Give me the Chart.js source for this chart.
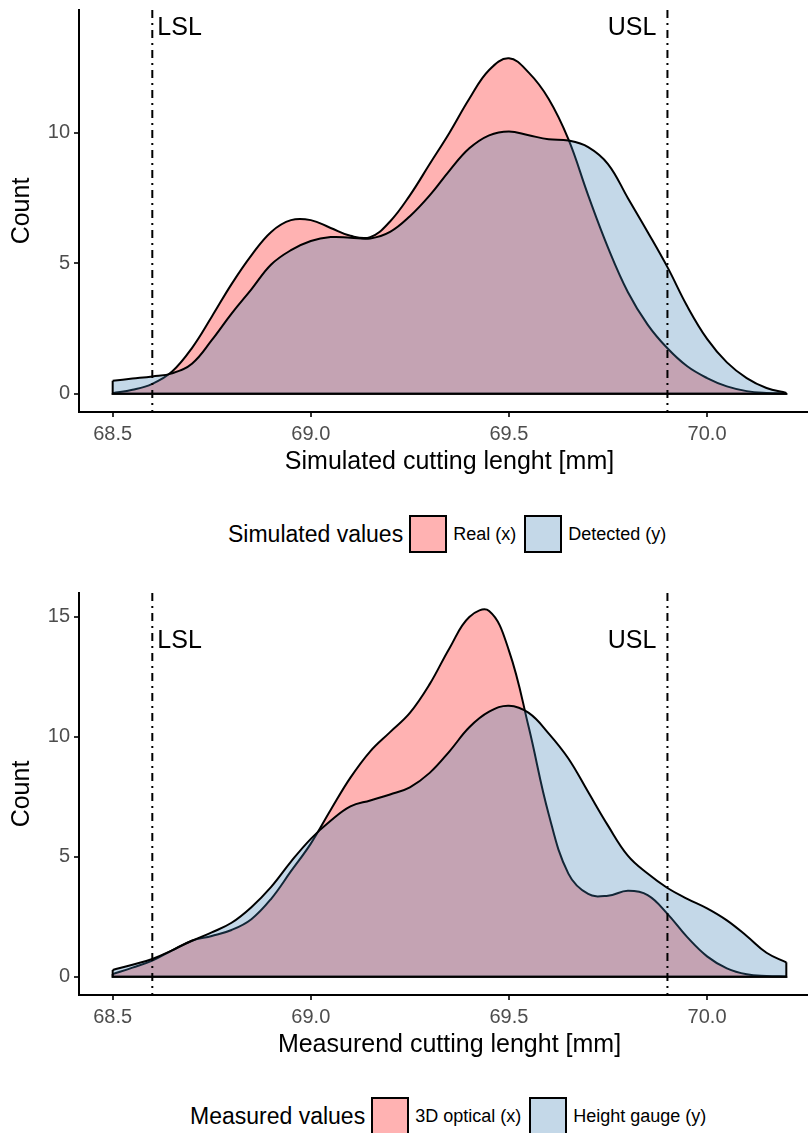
<!DOCTYPE html>
<html>
<head>
<meta charset="utf-8">
<script src="https://cdn.jsdelivr.net/npm/chart.js@4/dist/chart.umd.min.js"></script>
<style>
  body {
    margin: 0;
    width: 808px;
    height: 1133px;
    overflow: hidden;
    background: #fff;
    position: relative;
    font-family: "Liberation Sans", Arial, sans-serif;
  }
  canvas { position: absolute; left: 0; }
  .legend {
    position: absolute;
    display: flex;
    align-items: center;
    white-space: nowrap;
    color: #000;
  }
  .legend .title { font-size: 23px; margin-right: 6px; }
  .legend .key { width: 34px; height: 34px; border: 2px solid #000; }
  .legend .label { font-size: 18px; margin: 0 8px 0 6px; }
</style>
</head>
<body>
<canvas id="simChart" width="820" height="490" style="top:0px"></canvas>
<canvas id="measChart" width="820" height="490" style="top:583px"></canvas>
<div class="legend" id="simLegend" style="left:228px; top:515px"></div>
<div class="legend" id="measLegend" style="left:190px; top:1097px"></div>

<script>
// sample positions along the cutting length (mm)
const lengths = [68.5, 68.55, 68.6, 68.65, 68.7, 68.75, 68.8, 68.85, 68.9, 68.95,
  69.0, 69.05, 69.1, 69.15, 69.2, 69.25, 69.3, 69.35, 69.4, 69.45,
  69.5, 69.55, 69.6, 69.65, 69.7, 69.75, 69.8, 69.85, 69.9, 69.95,
  70.0, 70.05, 70.1, 70.15, 70.2];

// simulated values
const realX = [0.02, 0.15, 0.38, 0.85, 1.75, 2.95, 4.2, 5.3, 6.2, 6.65,
  6.65, 6.35, 6.05, 6.0, 6.6, 7.6, 8.8, 10.0, 11.3, 12.4,
  12.85, 12.3, 11.3, 9.75, 7.6, 5.6, 3.9, 2.65, 1.74, 1.05,
  0.6, 0.28, 0.1, 0.03, 0.01];
const detectedY = [0.5, 0.58, 0.66, 0.78, 1.15, 2.05, 3.07, 4.0, 4.95, 5.5,
  5.85, 6.0, 5.98, 5.95, 6.2, 6.8, 7.6, 8.55, 9.4, 9.9,
  10.05, 9.9, 9.75, 9.7, 9.45, 8.8, 7.5, 6.2, 4.85, 3.35,
  2.1, 1.2, 0.6, 0.22, 0.03];

// measured values
const opticalX = [0.11, 0.38, 0.67, 1.1, 1.5, 1.7, 1.95, 2.4, 3.25, 4.4,
  5.55, 6.95, 8.3, 9.4, 10.2, 11.0, 12.2, 13.7, 15.0, 15.25,
  13.6, 10.4, 6.8, 4.3, 3.45, 3.38, 3.58, 3.4, 2.62, 1.65,
  0.85, 0.35, 0.1, 0.03, 0.01];
const gaugeY = [0.28, 0.5, 0.74, 1.1, 1.5, 1.85, 2.25, 2.9, 3.75, 4.8,
  5.75, 6.5, 7.1, 7.35, 7.6, 7.9, 8.5, 9.4, 10.4, 11.05,
  11.3, 11.0, 10.15, 9.1, 7.7, 6.3, 5.05, 4.3, 3.7, 3.25,
  2.85, 2.35, 1.7, 1.0, 0.6];

// spec limits
const lsl = 68.6;
const usl = 69.9;
const limitLabelY = 14;

const xTicks = [68.5, 69.0, 69.5, 70.0];
const simYTicks = [0, 5, 10];
const measYTicks = [0, 5, 10, 15];

const redFill = "rgba(255, 0, 0, 0.3)";
const blueFill = "rgba(60, 125, 178, 0.3)";

// draws LSL / USL dot-dash lines with their labels
const specLines = {
  id: "specLines",
  afterDatasetsDraw(chart) {
    const { ctx, chartArea, scales } = chart;
    const xl = scales.x.getPixelForValue(lsl);
    const xu = scales.x.getPixelForValue(usl);
    ctx.save();
    ctx.strokeStyle = "#000";
    ctx.lineWidth = 2;
    ctx.setLineDash([8, 5, 2, 5]);
    [xl, xu].forEach((px) => {
      ctx.beginPath();
      ctx.moveTo(px, chartArea.top);
      ctx.lineTo(px, chartArea.bottom);
      ctx.stroke();
    });
    ctx.setLineDash([]);
    ctx.fillStyle = "#000";
    ctx.font = '25px "Liberation Sans", Arial, sans-serif';
    ctx.textBaseline = "middle";
    const ty = scales.y.getPixelForValue(limitLabelY);
    ctx.textAlign = "left";
    ctx.fillText("LSL", xl + 5, ty);
    ctx.textAlign = "right";
    ctx.fillText("USL", xu - 11, ty);
    ctx.restore();
  },
};

const toPoints = (vals) => vals.map((v, i) => ({ x: lengths[i], y: v }));

// density area plus its closing edges (left side, baseline, right side)
const densitySets = (vals, fill, order) => {
  const last = lengths.length - 1;
  return [
    {
      data: toPoints(vals),
      backgroundColor: fill,
      borderColor: "#000",
      borderWidth: 2,
      fill: "origin",
      pointRadius: 0,
      tension: 0.4,
      order: order,
    },
    {
      data: [
        { x: lengths[0], y: vals[0] },
        { x: lengths[0], y: 0 },
        { x: lengths[last], y: 0 },
        { x: lengths[last], y: vals[last] },
      ],
      borderColor: "#000",
      borderWidth: 2,
      fill: false,
      pointRadius: 0,
      tension: 0,
      order: order - 0.5,
    },
  ];
};

// drop the extra room Chart.js keeps for edge tick labels
const noScalePadding = (scale) => {
  scale.paddingTop = 0;
  scale.paddingBottom = 0;
  scale.paddingLeft = 0;
  scale.paddingRight = 0;
};

const makeChart = (id, first, second, yMin, yMax, yTicks, xTitle) => {
  const ctx = document.getElementById(id).getContext("2d");
  return new Chart(ctx, {
    type: "line",
    data: {
      datasets: [
        ...densitySets(first, redFill, 4),
        ...densitySets(second, blueFill, 2),
      ],
    },
    options: {
      responsive: false,
      animation: false,
      events: [],
      layout: { padding: { top: 10, left: 0, right: 0, bottom: 0 } },
      plugins: {
        legend: { display: false },
        tooltip: { enabled: false },
      },
      scales: {
        x: {
          type: "linear",
          min: 68.415,
          max: 70.285,
          afterBuildTicks: (scale) => {
            scale.ticks = xTicks.map((v) => ({ value: v }));
          },
          afterFit: (scale) => {
            scale.height = 78;
            noScalePadding(scale);
          },
          ticks: {
            color: "#4d4d4d",
            font: { size: 20, family: "Liberation Sans" },
            padding: 5,
            maxRotation: 0,
            callback: (v) => v.toFixed(1),
          },
          grid: {
            drawOnChartArea: false,
            drawTicks: true,
            tickLength: 5,
            color: "#333",
            lineWidth: 2,
          },
          border: { display: true, color: "#000", width: 2 },
          title: {
            display: true,
            text: xTitle,
            color: "#000",
            font: { size: 25, family: "Liberation Sans" },
            padding: { top: 0, bottom: 13 },
          },
        },
        y: {
          type: "linear",
          min: yMin,
          max: yMax,
          afterBuildTicks: (scale) => {
            scale.ticks = yTicks.map((v) => ({ value: v }));
          },
          afterFit: (scale) => {
            scale.width = 79;
            noScalePadding(scale);
          },
          ticks: {
            color: "#4d4d4d",
            font: { size: 20, family: "Liberation Sans" },
            padding: 4,
          },
          grid: {
            drawOnChartArea: false,
            drawTicks: true,
            tickLength: 5,
            color: "#333",
            lineWidth: 2,
          },
          border: { display: true, color: "#000", width: 2 },
          title: {
            display: true,
            text: "Count",
            color: "#000",
            font: { size: 25, family: "Liberation Sans" },
            padding: { top: 7, bottom: 0 },
          },
        },
      },
    },
    plugins: [specLines],
  });
};

// legend below each panel
const makeLegend = (id, title, names) => {
  const el = document.getElementById(id);
  let html = '<span class="title">' + title + "</span>";
  [redFill, blueFill].forEach((c, i) => {
    html += '<span class="key" style="background:' + c + '"></span>';
    html += '<span class="label">' + names[i] + "</span>";
  });
  el.innerHTML = html;
};

makeChart("simChart", realX, detectedY, -0.7, 14.7, simYTicks, "Simulated cutting lenght [mm]");
makeChart("measChart", opticalX, gaugeY, -0.762, 16.0, measYTicks, "Measurend cutting lenght [mm]");
makeLegend("simLegend", "Simulated values", ["Real (x)", "Detected (y)"]);
makeLegend("measLegend", "Measured values", ["3D optical (x)", "Height gauge (y)"]);
</script>
</body>
</html>
